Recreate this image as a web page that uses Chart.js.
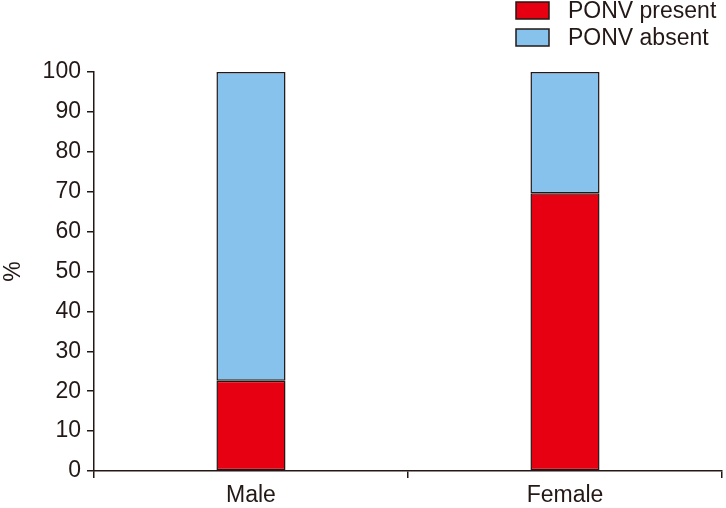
<!DOCTYPE html>
<html>
<head>
<meta charset="utf-8">
<title>PONV by sex</title>
<script src="https://cdn.jsdelivr.net/npm/chart.js@4/dist/chart.umd.min.js"></script>
<style>
    html, body { margin: 0; padding: 0; background: #fff; }
    #wrap { width: 726px; height: 508px; }
</style>
</head>
<body>
<div id="wrap"><canvas id="ponvChart" width="726" height="508"></canvas></div>
<script>
// dados
const categorias = ['Male', 'Female'];
const ponvPresente = [22.6, 69.6];
const ponvAusente = [77.4, 30.4];
const ticksY = [0, 10, 20, 30, 40, 50, 60, 70, 80, 90, 100];

const corTexto = '#231815';
const FONTE = "'Liberation Sans', Arial, sans-serif";

// legenda desenhada à mão (caixas empilhadas no canto superior direito)
const legendaManual = {
    id: 'legendaManual',
    afterDraw(chart) {
        const ctx = chart.ctx;
        ctx.save();
        ctx.font = '23px ' + FONTE;
        ctx.textBaseline = 'middle';
        chart.data.datasets.forEach((ds, i) => {
            const y = 2 + i * 27;
            ctx.fillStyle = ds.backgroundColor;
            ctx.fillRect(516, y, 33, 17);
            ctx.strokeStyle = corTexto;
            ctx.lineWidth = 1.5;
            ctx.strokeRect(516, y, 33, 17);
            ctx.fillStyle = corTexto;
            ctx.fillText(ds.label, 568, y + 10);
        });
        ctx.restore();
    }
};

document.addEventListener('DOMContentLoaded', function () {
    const ctx = document.getElementById('ponvChart').getContext('2d');
    new Chart(ctx, {
        type: 'bar',
        data: {
            labels: categorias,
            datasets: [
                {
                    label: 'PONV present',
                    data: ponvPresente,
                    backgroundColor: '#e60012',
                    borderColor: corTexto,
                    borderWidth: 1.5,
                    borderSkipped: false
                },
                {
                    label: 'PONV absent',
                    data: ponvAusente,
                    backgroundColor: '#86c2eb',
                    borderColor: corTexto,
                    borderWidth: 1.5,
                    borderSkipped: false
                }
            ]
        },
        options: {
            responsive: false,
            animation: false,
            layout: { padding: { top: 72, right: 4, left: 0, bottom: 0 } },
            datasets: { bar: { categoryPercentage: 1, barPercentage: 0.22 } },
            plugins: {
                legend: { display: false },
                tooltip: { enabled: false }
            },
            scales: {
                x: {
                    stacked: true,
                    afterFit: scale => { scale.height = 37; },
                    grid: { drawOnChartArea: false, tickLength: 7, color: corTexto, lineWidth: 1.5, offset: true },
                    border: { color: corTexto, width: 1.5 },
                    ticks: { color: corTexto, font: { family: FONTE, size: 23, lineHeight: 1.0 }, padding: 6 }
                },
                y: {
                    stacked: true,
                    min: 0,
                    max: 100,
                    afterBuildTicks: axis => { axis.ticks = ticksY.map(v => ({ value: v })); },
                    grid: { drawOnChartArea: false, tickLength: 7, color: corTexto, lineWidth: 1.5 },
                    border: { color: corTexto, width: 1.5 },
                    ticks: { color: corTexto, font: { family: FONTE, size: 23 }, padding: 6 },
                    title: { display: true, text: '%', color: corTexto, font: { family: FONTE, size: 23 }, padding: { top: 0, bottom: 9 } }
                }
            }
        },
        plugins: [legendaManual]
    });
});
</script>
</body>
</html>
